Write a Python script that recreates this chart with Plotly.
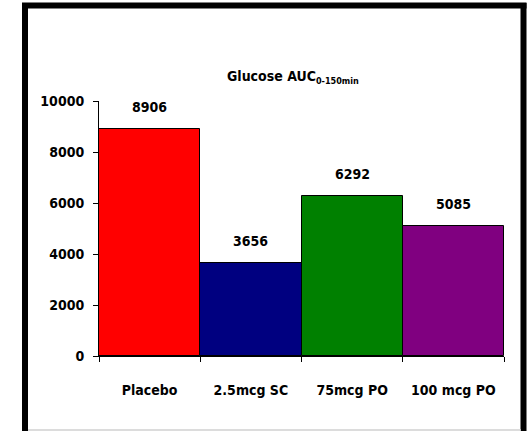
import plotly.graph_objects as go

categories = ["Placebo", "2.5mcg SC", "75mcg PO", "100 mcg PO"]
values = [8906, 3656, 6292, 5085]
colors = ["#FF0000", "#000080", "#008000", "#800080"]
y_ticks = [0, 2000, 4000, 6000, 8000, 10000]

FONT = "DejaVu Sans Condensed, Liberation Sans Narrow, Arial Narrow, sans-serif"

fig = go.Figure()
fig.add_trace(go.Bar(
    x=categories, y=values,
    marker=dict(color=colors, line=dict(color="black", width=1)),
    width=1.0,
    hoverinfo="skip",
))

for c, v in zip(categories, values):
    fig.add_annotation(x=c, y=v, text="<b>%d</b>" % v, showarrow=False,
                       yanchor="bottom", yshift=12,
                       font=dict(family=FONT, size=14, color="black"))

fig.add_annotation(xref="paper", yref="paper", x=0.48, y=1.0, yanchor="bottom", yshift=13,
                   text="<b>Glucose AUC<sub><span style='font-size:9px'>0-150min</span></sub></b>",
                   showarrow=False,
                   font=dict(family=FONT, size=14, color="black"))

# outer frame
L, R, T, B = 99, 504, 101, 356
W, H = R - L, B - T
def px(x):
    return (x - L) / W
def py(y):
    return (B - y) / H
fig.add_shape(type="line", xref="paper", yref="paper",
              x0=px(25), x1=px(25), y0=py(440), y1=py(3),
              line=dict(color="black", width=6), layer="above")
fig.add_shape(type="line", xref="paper", yref="paper",
              x0=px(523.5), x1=px(523.5), y0=py(440), y1=py(3),
              line=dict(color="black", width=6), layer="above")
fig.add_shape(type="line", xref="paper", yref="paper",
              x0=px(22), x1=px(526.5), y0=py(5.5), y1=py(5.5),
              line=dict(color="black", width=6), layer="above")
fig.add_shape(type="line", xref="paper", yref="paper",
              x0=px(28), x1=px(521), y0=py(430), y1=py(430),
              line=dict(color="#d0d0d0", width=1.5), layer="above")

fig.update_layout(
    width=529, height=431,
    margin=dict(l=L, r=529 - R, t=T, b=431 - B),
    paper_bgcolor="white", plot_bgcolor="white",
    showlegend=False, bargap=0,
    font=dict(family=FONT, size=14, color="black"),
)
fig.update_xaxes(
    showline=True, linecolor="black", linewidth=1,
    ticks="outside", ticklen=5, tickcolor="black", tickson="boundaries",
    tickfont=dict(family=FONT, size=14, color="black"),
    ticklabelstandoff=21,
    showgrid=False, zeroline=False,
    tickvals=categories, ticktext=["<b>%s</b>" % c for c in categories],
    range=[-0.5, 3.5],
)
fig.update_yaxes(
    range=[0, 10000], tickvals=y_ticks, ticktext=["<b>%d</b>" % t for t in y_ticks],
    showline=True, linecolor="black", linewidth=1,
    ticks="outside", ticklen=5, tickcolor="black",
    tickfont=dict(family=FONT, size=14, color="black"),
    ticklabelstandoff=6,
    showgrid=False, zeroline=False,
)

fig.write_html("out.html", config={"displayModeBar": False},
               post_script="document.body.style.margin='0';document.body.style.padding='0';")
